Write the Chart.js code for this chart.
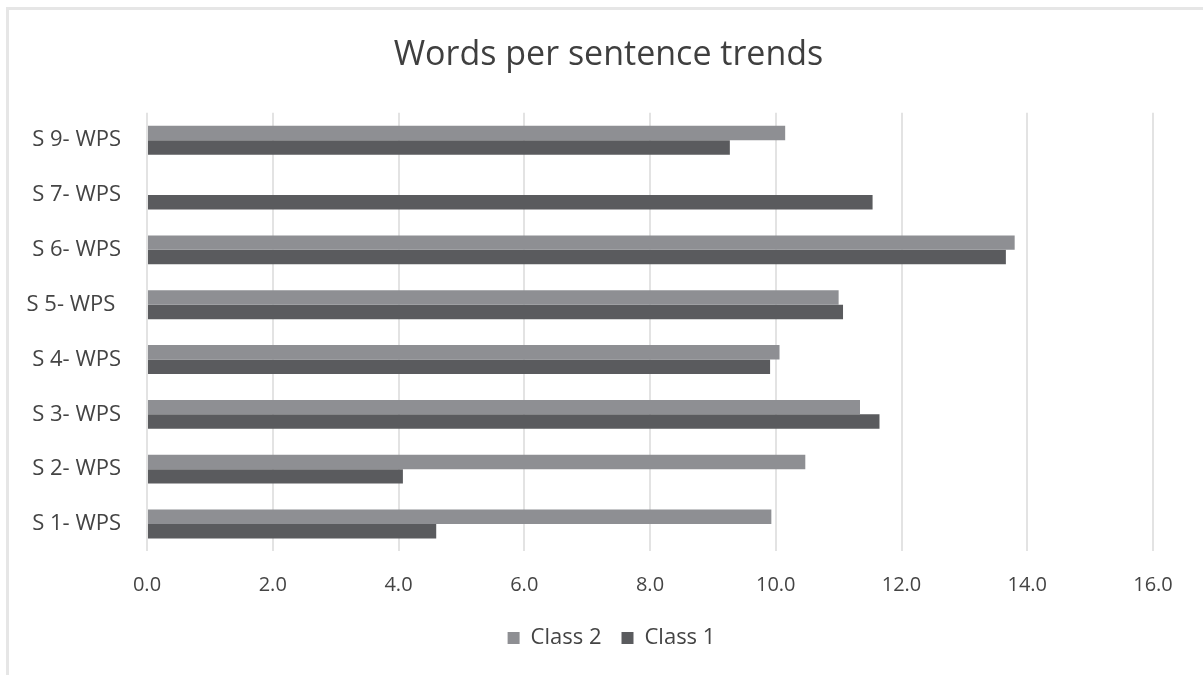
<!DOCTYPE html>
<html>
<head>
<meta charset="utf-8">
<title>Words per sentence trends</title>
<script src="https://cdn.jsdelivr.net/npm/chart.js@4.4.1/dist/chart.umd.min.js"></script>
<style>
  html, body { margin: 0; padding: 0; background: #ffffff; }
  #wrap { position: relative; width: 1203px; height: 675px; overflow: hidden; }
  #frame {
    position: absolute; left: 6px; top: 7px; width: 1210px; height: 680px;
    border-top: 3px solid #e6e6e6; border-left: 3px solid #e6e6e6;
  }
  #chart { position: absolute; left: 0; top: 0; }
</style>
</head>
<body>
<div id="wrap">
  <div id="frame"></div>
  <canvas id="chart" width="1203" height="675"></canvas>
</div>
<script>
// Sentences (bottom to top) and average words per sentence for each class
const categories = ['S 1- WPS', 'S 2- WPS', 'S 3- WPS', 'S 4- WPS', 'S 5- WPS ', 'S 6- WPS', 'S 7- WPS', 'S 9- WPS'];
const class2 = [9.93, 10.47, 11.34, 10.06, 11.00, 13.80, null, 10.15];
const class1 = [4.60, 4.07, 11.65, 9.91, 11.07, 13.66, 11.54, 9.27];
const xTicks = [0, 2, 4, 6, 8, 10, 12, 14, 16];

const FONT = "'Open Sans', 'DejaVu Sans', sans-serif";
const TEXT = '#444444';

// Title and legend sit centred on the whole frame rather than on the
// padded layout area, so nudge them sideways when they are painted.
const centreOnFrame = {
  id: 'centreOnFrame',
  beforeDraw(chart) {
    [[chart.titleBlock, 32], [chart.legend, 35]].forEach(([box, dx]) => {
      if (!box || box._centred) return;
      const draw = box.draw.bind(box);
      box.draw = function (area) {
        const c = chart.ctx;
        c.save();
        c.translate(dx, 0);
        draw(area);
        c.restore();
      };
      box._centred = true;
    });
  }
};

new Chart(document.getElementById('chart'), {
  type: 'bar',
  data: {
    labels: categories,
    datasets: [
      { label: 'Class 2', data: class2, backgroundColor: '#8e8f93' },
      { label: 'Class 1', data: class1, backgroundColor: '#5a5b5e' }
    ]
  },
  plugins: [centreOnFrame],
  options: {
    indexAxis: 'y',
    responsive: false,
    animation: false,
    devicePixelRatio: 1,
    layout: { padding: { left: 0, right: 50, top: 0, bottom: 16 } },
    datasets: { bar: { categoryPercentage: 0.527, barPercentage: 1.0 } },
    plugins: {
      title: {
        display: true,
        text: 'Words per sentence trends',
        color: '#3f3f3f',
        font: { family: FONT, size: 34, weight: 'normal', lineHeight: 1.2 },
        padding: { top: 35, bottom: 37 }
      },
      legend: {
        position: 'bottom',
        labels: {
          color: TEXT,
          font: { family: FONT, size: 22 },
          boxWidth: 12, boxHeight: 12,
          padding: 20
        }
      },
      tooltip: { enabled: false }
    },
    scales: {
      x: {
        min: 0, max: 16,
        afterBuildTicks: s => { s.ticks = xTicks.map(v => ({ value: v })); },
        afterFit: s => { s.height = 55.6; },
        ticks: {
          color: TEXT,
          font: { family: FONT, size: 20 },
          padding: 22,
          callback: v => Number(v).toFixed(1)
        },
        grid: { color: '#e3e3e3', lineWidth: 2, drawTicks: false },
        border: { display: false }
      },
      y: {
        reverse: true,
        afterFit: s => { s.width = 147; },
        ticks: {
          color: TEXT,
          font: { family: FONT, size: 22 },
          padding: 26
        },
        grid: { display: false, drawTicks: false },
        border: { display: false }
      }
    }
  }
});
</script>
</body>
</html>
